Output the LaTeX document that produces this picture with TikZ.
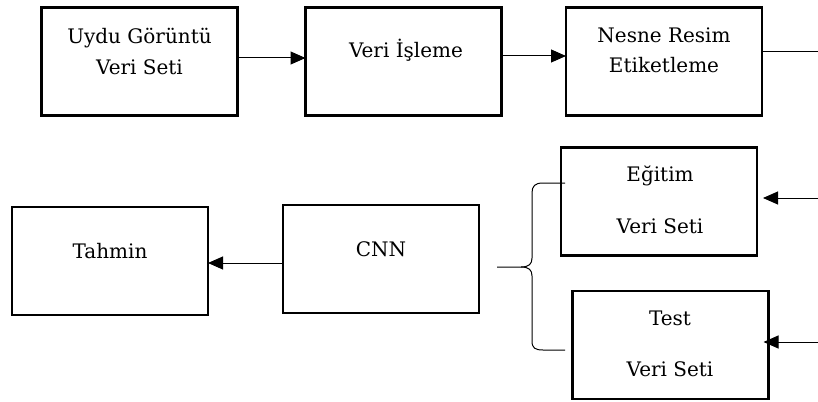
\documentclass[tikz,border=0pt]{standalone}
\usepackage{fontspec}
\setmainfont{DejaVu Serif}
\usetikzlibrary{arrows.meta}
\begin{document}
\begin{tikzpicture}[x=1pt,y=-1pt,
  box/.style={draw=black,line width=2.2pt,rectangle,inner sep=0pt,outer sep=0pt,minimum width=196pt,minimum height=108pt},
  txt/.style={anchor=base,inner sep=0pt,font=\fontsize{20}{24}\selectfont},
  arr/.style={line width=1pt,-{Triangle[length=15pt,width=13pt]}},
  ln/.style={line width=1pt}]
\useasboundingbox (0,0) rectangle (818,401);
% boxes
\node[box] (b1) at (139.5,61.5) {};
\node[box] (b2) at (403.5,61.5) {};
\node[box] (b3) at (664,61.5) {};
\node[box] (tah) at (110,261) {};
\node[box] (cnn) at (381,259) {};
\node[box] (egt) at (659,201.5) {};
\node[box] (tst) at (670.5,345) {};
% texts
\node[txt] (t1a) at (139.5,44) {Uydu Görüntü};
\node[txt] (t1b) at (139.5,75) {Veri Seti};
\node[txt] (t2) at (406,58) {Veri İşleme};
\node[txt] (t3a) at (664,43) {Nesne Resim};
\node[txt] (t3b) at (664,73) {Etiketleme};
\node[txt] (tt) at (110,258) {Tahmin};
\node[txt] (tc) at (381,256) {CNN};
\node[txt] (tea) at (660,181) {Eğitim};
\node[txt] (teb) at (660,233) {Veri Seti};
\node[txt] (tsa) at (670,325) {Test};
\node[txt] (tsb) at (670,376) {Veri Seti};
% free ends
\coordinate (out3) at (818,52);
\coordinate (inE) at (818,198);
\coordinate (inT) at (818,342);
% connectors
\draw[arr] (b1.east |- 0,58) -- (b2.west |- 0,58);
\draw[arr] (b2.east |- 0,56) -- (b3.west |- 0,56);
\draw[ln] (b3.east |- out3) -- (out3);
\draw[arr] (inE) -- ([xshift=6pt]inE -| egt.east);
\draw[arr] (inT) -- ([xshift=-5pt]inT -| tst.east);
\draw[arr] (cnn.west |- 0,263) -- (tah.east |- 0,263);
% brace
\draw[ln] (565,183) -- (543,183) .. controls (535,183) and (532,186) .. (532,193)
  -- (532,258) .. controls (532,264) and (529,267) .. (521,267) -- (497,267);
\draw[ln] (521,267) .. controls (529,267) and (532,270) .. (532,276)
  -- (532,341) .. controls (532,348) and (535,350) .. (543,350) -- (565,350);
\end{tikzpicture}
\end{document}
